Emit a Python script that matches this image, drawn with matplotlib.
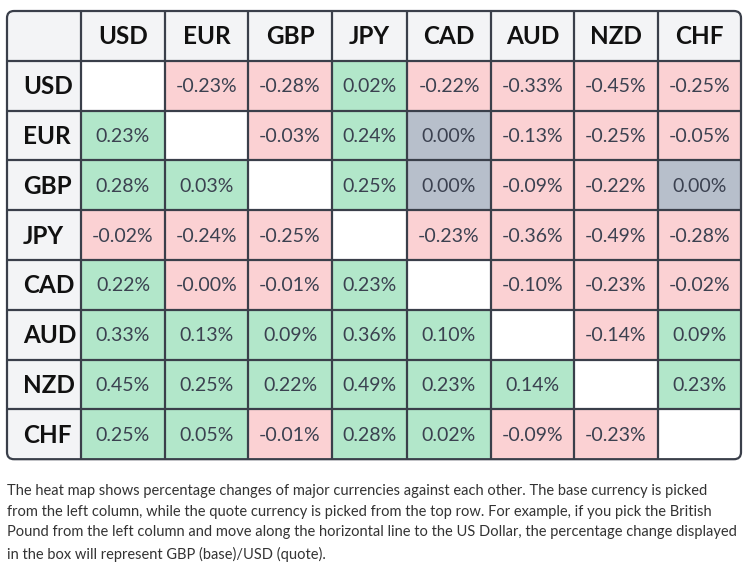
#!/usr/bin/env python3
"""Cross-currency heat map table (percentage changes), drawn with matplotlib patches."""
import numpy as np
import matplotlib
matplotlib.use("Agg")
import matplotlib.pyplot as plt
from matplotlib.patches import Rectangle, FancyBboxPatch

currencies = ["USD", "EUR", "GBP", "JPY", "CAD", "AUD", "NZD", "CHF"]
# rows = base currency, columns = quote currency (None on the diagonal)
usd = [None, -0.23, -0.28, 0.02, -0.22, -0.33, -0.45, -0.25]
eur = [0.23, None, -0.03, 0.24, 0.00, -0.13, -0.25, -0.05]
gbp = [0.28, 0.03, None, 0.25, 0.00, -0.09, -0.22, 0.00]
jpy = [-0.02, -0.24, -0.25, None, -0.23, -0.36, -0.49, -0.28]
cad = [0.22, -0.0, -0.01, 0.23, None, -0.10, -0.23, -0.02]
aud = [0.33, 0.13, 0.09, 0.36, 0.10, None, -0.14, 0.09]
nzd = [0.45, 0.25, 0.22, 0.49, 0.23, 0.14, None, 0.23]
chf = [0.25, 0.05, -0.01, 0.28, 0.02, -0.09, -0.23, None]
rows = [usd, eur, gbp, jpy, cad, aud, nzd, chf]

caption = ("The heat map shows percentage changes of major currencies against each other. The base currency is picked\n"
           "from the left column, while the quote currency is picked from the top row. For example, if you pick the British\n"
           "Pound from the left column and move along the horizontal line to the US Dollar, the percentage change displayed\n"
           "in the box will represent GBP (base)/USD (quote).")

# layout in pixels
xe = [7, 81, 165, 248, 332, 407, 491, 574, 658, 741]
ye = [11 + 49.8 * i for i in range(10)]
GREEN, PINK, GREY, HEAD = "#b2e7ca", "#fbd1d3", "#b7bfcb", "#f3f4f6"
LINE, TXT = "#3a3f4a", "#3b4150"

plt.rcParams["font.family"] = ["Lato", "DejaVu Sans"]
fig = plt.figure(figsize=(7.49, 5.65), dpi=100)
ax = fig.add_axes([0, 0, 1, 1])
ax.set_xlim(0, 749); ax.set_ylim(565, 0); ax.axis("off")

frame = FancyBboxPatch((xe[0], ye[0]), xe[-1] - xe[0], ye[-1] - ye[0],
                       boxstyle="round,pad=0,rounding_size=7", fc="none", ec=LINE, lw=1.6, zorder=5)
ax.add_patch(frame)

def cell(i, j, color):
    r = Rectangle((xe[j], ye[i]), xe[j + 1] - xe[j], ye[i + 1] - ye[i], fc=color, ec="none", zorder=1)
    ax.add_patch(r); r.set_clip_path(frame)

# header row / column
for k, c in enumerate(currencies):
    cell(0, k + 1, HEAD); cell(k + 1, 0, HEAD)
    ax.text((xe[k + 1] + xe[k + 2]) / 2, (ye[0] + ye[1]) / 2 + 1, c, ha="center", va="center",
            fontsize=17.5, fontweight="bold", color="#111111", zorder=6)
    ax.text(xe[0] + 16, (ye[k + 1] + ye[k + 2]) / 2 + 1, c, ha="left", va="center",
            fontsize=17.5, fontweight="bold", color="#111111", zorder=6)
cell(0, 0, HEAD)

for i, vals in enumerate(rows):
    for j, v in enumerate(vals):
        if v is None:
            cell(i + 1, j + 1, "white"); continue
        if v > 0:
            col = GREEN
        elif v < 0 or np.signbit(v):
            col = PINK
        else:
            col = GREY
        cell(i + 1, j + 1, col)
        ax.text((xe[j + 1] + xe[j + 2]) / 2, (ye[i + 1] + ye[i + 2]) / 2 + 1, f"{v:.2f}%",
                ha="center", va="center", fontsize=14, color=TXT, zorder=6)

# grid lines
for x in xe[1:-1]:
    ax.plot([x, x], [ye[0], ye[-1]], color=LINE, lw=1.6, zorder=4, solid_capstyle="butt")
for y in ye[1:-1]:
    ax.plot([xe[0], xe[-1]], [y, y], color=LINE, lw=1.6, zorder=4, solid_capstyle="butt")

ax.text(7, 484, caption, ha="left", va="top", fontsize=10.5, color="#333333", linespacing=1.6)

fig.savefig("out.png", dpi=100)
